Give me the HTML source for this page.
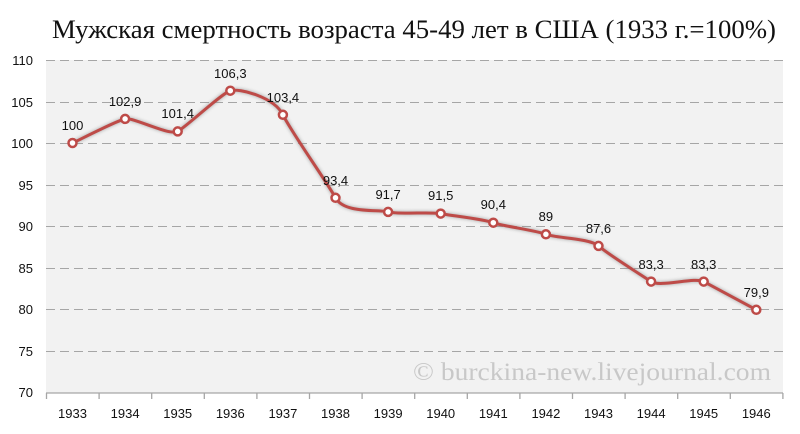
<!DOCTYPE html>
<html><head><meta charset="utf-8"><style>body{margin:0;background:#fff}svg{display:block}</style></head>
<body>
<svg width="800" height="434" xmlns="http://www.w3.org/2000/svg">
<defs><filter id="sh" x="-50%" y="-50%" width="200%" height="200%"><feGaussianBlur stdDeviation="1.5"/></filter></defs>
<text x="52" y="38" textLength="724" lengthAdjust="spacingAndGlyphs" font-family="Liberation Serif, serif" font-size="26" fill="#111">Мужская смертность возраста 45-49 лет в США (1933 г.=100%)</text>
<rect x="46" y="60" width="737" height="333" fill="#f2f2f2"/>
<g stroke="#a6a6a6" stroke-width="1" stroke-dasharray="9,5">
<line x1="46" y1="60.5" x2="783" y2="60.5"/><line x1="46" y1="102.5" x2="783" y2="102.5"/><line x1="46" y1="143.5" x2="783" y2="143.5"/><line x1="46" y1="185.5" x2="783" y2="185.5"/><line x1="46" y1="226.5" x2="783" y2="226.5"/><line x1="46" y1="268.5" x2="783" y2="268.5"/><line x1="46" y1="309.5" x2="783" y2="309.5"/><line x1="46" y1="351.5" x2="783" y2="351.5"/>
</g>
<text x="413" y="380" textLength="358" lengthAdjust="spacingAndGlyphs" font-family="Liberation Serif, serif" font-size="25" fill="#c8c8c8">© burckina-new.livejournal.com</text>
<g stroke="#a6a6a6" stroke-width="1.3"><line x1="46" y1="393" x2="783" y2="393"/>
<path d="M46.5 393v6M99.1 393v6M151.7 393v6M204.3 393v6M256.9 393v6M309.5 393v6M362.1 393v6M414.7 393v6M467.3 393v6M519.9 393v6M572.5 393v6M625.1 393v6M677.7 393v6M730.3 393v6M782.9 393v6"/></g>
<g font-family="Liberation Sans, sans-serif" font-size="13" fill="#111" text-anchor="end">
<text x="33" y="65">110</text><text x="33" y="107">105</text><text x="33" y="148">100</text><text x="33" y="190">95</text><text x="33" y="231">90</text><text x="33" y="273">85</text><text x="33" y="314">80</text><text x="33" y="356">75</text><text x="33" y="397">70</text>
</g>
<g font-family="Liberation Sans, sans-serif" font-size="13" fill="#111" text-anchor="middle">
<text x="72.5" y="418">1933</text><text x="125.1" y="418">1934</text><text x="177.7" y="418">1935</text><text x="230.3" y="418">1936</text><text x="282.9" y="418">1937</text><text x="335.5" y="418">1938</text><text x="388.1" y="418">1939</text><text x="440.7" y="418">1940</text><text x="493.3" y="418">1941</text><text x="545.9" y="418">1942</text><text x="598.5" y="418">1943</text><text x="651.1" y="418">1944</text><text x="703.7" y="418">1945</text><text x="756.3" y="418">1946</text>
</g>
<path d="M72.5,143 C81.27,139 116.33,120.83 125.1,118.9 C133.87,116.97 168.93,136.1 177.7,131.4 C186.47,126.7 221.53,93.47 230.3,90.7 C239.07,87.93 274.13,96.95 282.9,114.8 C291.67,132.65 326.73,181.62 335.5,197.8 C344.27,213.98 379.33,209.27 388.1,211.9 C396.87,214.53 431.93,211.8 440.7,213.6 C449.47,215.4 484.53,219.25 493.3,222.7 C502.07,226.15 537.13,230.43 545.9,234.3 C554.67,238.17 589.73,238.02 598.5,245.9 C607.27,253.78 642.37,275.65 651.1,281.6 C659.87,287.55 694.93,276.9 703.7,281.6 C712.47,286.3 747.53,305.1 756.3,309.8" fill="none" stroke="#888" stroke-width="4" filter="url(#sh)" opacity="0.6"/>
<path d="M72.5,143 C81.27,139 116.33,120.83 125.1,118.9 C133.87,116.97 168.93,136.1 177.7,131.4 C186.47,126.7 221.53,93.47 230.3,90.7 C239.07,87.93 274.13,96.95 282.9,114.8 C291.67,132.65 326.73,181.62 335.5,197.8 C344.27,213.98 379.33,209.27 388.1,211.9 C396.87,214.53 431.93,211.8 440.7,213.6 C449.47,215.4 484.53,219.25 493.3,222.7 C502.07,226.15 537.13,230.43 545.9,234.3 C554.67,238.17 589.73,238.02 598.5,245.9 C607.27,253.78 642.37,275.65 651.1,281.6 C659.87,287.55 694.93,276.9 703.7,281.6 C712.47,286.3 747.53,305.1 756.3,309.8" fill="none" stroke="#be4b48" stroke-width="3"/>
<g fill="#fff" stroke="#be4b48" stroke-width="2.5">
<circle cx="72.5" cy="143" r="4"/><circle cx="125.1" cy="118.9" r="4"/><circle cx="177.7" cy="131.4" r="4"/><circle cx="230.3" cy="90.7" r="4"/><circle cx="282.9" cy="114.8" r="4"/><circle cx="335.5" cy="197.8" r="4"/><circle cx="388.1" cy="211.9" r="4"/><circle cx="440.7" cy="213.6" r="4"/><circle cx="493.3" cy="222.7" r="4"/><circle cx="545.9" cy="234.3" r="4"/><circle cx="598.5" cy="245.9" r="4"/><circle cx="651.1" cy="281.6" r="4"/><circle cx="703.7" cy="281.6" r="4"/><circle cx="756.3" cy="309.8" r="4"/>
</g>
<g font-family="Liberation Sans, sans-serif" font-size="13" fill="#111" text-anchor="middle">
<text x="72.5" y="130">100</text><text x="125.1" y="106">102,9</text><text x="177.7" y="118">101,4</text><text x="230.3" y="78">106,3</text><text x="282.9" y="102">103,4</text><text x="335.5" y="185">93,4</text><text x="388.1" y="199">91,7</text><text x="440.7" y="200">91,5</text><text x="493.3" y="209">90,4</text><text x="545.9" y="221">89</text><text x="598.5" y="233">87,6</text><text x="651.1" y="269">83,3</text><text x="703.7" y="269">83,3</text><text x="756.3" y="297">79,9</text>
</g>
</svg>
</body></html>
